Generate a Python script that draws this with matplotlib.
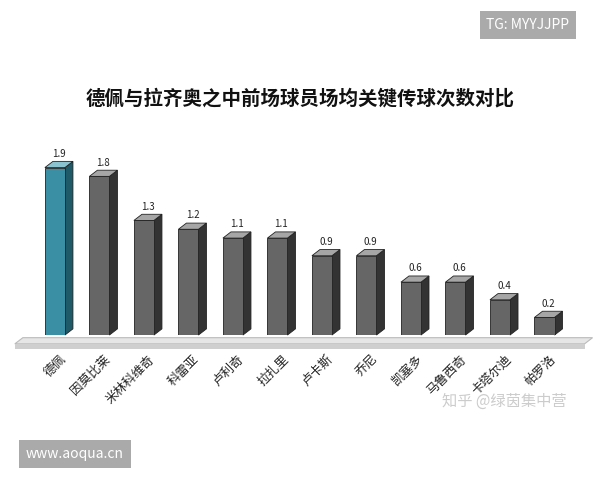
import matplotlib
matplotlib.use("Agg")
import matplotlib.pyplot as plt
from matplotlib.patches import Polygon, Rectangle

plt.rcParams['font.family'] = ['Noto Sans CJK SC', 'DejaVu Sans']

players = ['德佩', '因莫比莱', '米林科维奇', '科雷亚', '卢利奇', '拉扎里',
           '卢卡斯', '乔尼', '凯塞多', '马鲁西奇', '卡塔尔迪', '帕罗洛']
values = [1.9, 1.8, 1.3, 1.2, 1.1, 1.1, 0.9, 0.9, 0.6, 0.6, 0.4, 0.2]
value_labels = ['1.9', '1.8', '1.3', '1.2', '1.1', '1.1', '0.9', '0.9', '0.6', '0.6', '0.4', '0.2']

fig = plt.figure(figsize=(6, 4.8), dpi=100)
fig.patch.set_facecolor('white')
ax = fig.add_axes([0.047, 0.302, 0.905, 0.404])
ax.set_xlim(-0.6, 11.6)
ax.set_ylim(0, 2.2)
ax.axis('off')

w = 0.45
dx, dy = 0.18, 0.07

# floor
ax.add_patch(Polygon([(-0.9, -0.1), (11.9, -0.1), (11.9 + dx, -0.1 + dy), (-0.9 + dx, -0.1 + dy)],
                     closed=True, facecolor='#e6e6e6', edgecolor='#bbbbbb', lw=0.8, clip_on=False))
ax.add_patch(Rectangle((-0.9, -0.16), 12.8, 0.06, facecolor='#cfcfcf', edgecolor='none', clip_on=False))

for i, (v, lab) in enumerate(zip(values, value_labels)):
    if i == 0:
        front, side, top = '#3b8fa5', '#1f5a68', '#8cc3d0'
    else:
        front, side, top = '#666666', '#333333', '#a6a6a6'
    x0, x1 = i - w / 2, i + w / 2
    ax.add_patch(Polygon([(x1, 0), (x1 + dx, dy), (x1 + dx, v + dy), (x1, v)],
                         closed=True, facecolor=side, edgecolor='#222222', lw=0.6, clip_on=False))
    ax.add_patch(Polygon([(x0, v), (x1, v), (x1 + dx, v + dy), (x0 + dx, v + dy)],
                         closed=True, facecolor=top, edgecolor='#222222', lw=0.6, clip_on=False))
    ax.bar(i, v, width=w, color=front, edgecolor='#222222', lw=0.6)
    ax.text(i + dx / 2, v + dy + 0.03, lab, ha='center', va='bottom', fontsize=7, color='#222222')
    ax.text(i + 0.1, -0.2, players[i], rotation=45, ha='right', va='top', fontsize=9,
            color='#222222', rotation_mode='anchor')

fig.text(0.5, 0.795, '德佩与拉齐奥之中前场球员场均关键传球次数对比', ha='center', va='center',
         fontsize=14, fontweight='bold', color='#111111', family=['Noto Sans CJK SC'])

fig.text(0.88, 0.948, 'TG: MYYJJPP', ha='center', va='center', fontsize=10, color='white',
         bbox=dict(boxstyle='square,pad=0.5', facecolor='#aaaaaa', edgecolor='none'))
fig.text(0.125, 0.055, 'www.aoqua.cn', ha='center', va='center', fontsize=10, color='white',
         bbox=dict(boxstyle='square,pad=0.5', facecolor='#aaaaaa', edgecolor='none'))
fig.text(0.84, 0.165, '知乎 @绿茵集中营', ha='center', va='center', fontsize=11, color='#cccccc')

fig.savefig('out.png', dpi=100)
